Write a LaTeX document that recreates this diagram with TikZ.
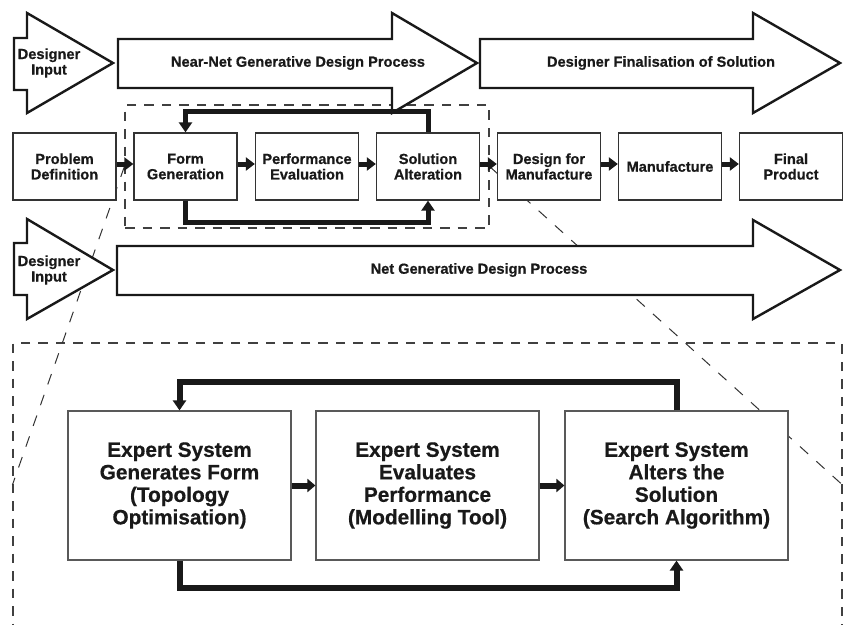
\documentclass[tikz,border=0pt]{standalone}
\usepackage{fontspec}
\setmainfont{Liberation Sans}[BoldFeatures={FakeBold=0.6}]
\usetikzlibrary{arrows.meta}
\begin{document}
\begin{tikzpicture}[x=1pt,y=-1pt,
  font=\bfseries\fontsize{14.6}{15.5}\selectfont,
  flowbox/.style={draw=black!80, line width=1.3pt, fill=white, minimum width=103pt,
    minimum height=67pt, align=center, inner sep=0pt, text=black!90},
  esbox/.style={draw=black!65, line width=1.2pt, fill=white, minimum width=223pt,
    minimum height=149pt, align=center, inner sep=0pt, text=black!90,
    font=\bfseries\fontsize{20.8}{22.5}\selectfont},
  bigarrow/.style={draw=black!90, line width=2.4pt, fill=white, line join=miter},
  flow/.style={draw=black!90, line width=5pt, -{Triangle[width=13pt,length=9pt]}},
  esflow/.style={draw=black!90, line width=6pt, -{Triangle[width=13pt,length=8pt]}},
  loopline/.style={draw=black!90, line width=5pt, line join=miter,
    -{Triangle[width=13pt,length=10pt]}},
  esloop/.style={draw=black!90, line width=6pt, line join=miter,
    -{Triangle[width=13pt,length=10pt]}},
  dashbox/.style={draw=black!75, line width=1.2pt, dash pattern=on 9.5pt off 8pt, inner sep=0pt},
  zoomline/.style={draw=black!80, line width=1pt, dash pattern=on 11pt off 11pt},
  arrowtext/.style={align=center, inner sep=0pt, text=black!90}
]
\clip (0,0) rectangle (843,624);
\useasboundingbox (0,0) rectangle (843,624);

% dashed frames: the iterative loop and its enlarged view
\node[dashbox, minimum width=364pt, minimum height=123pt] (near) at (307,166.5) {};
\node[dashbox, minimum width=829pt, minimum height=284pt] (detail) at (427.5,485) {};

% zoom lines joining the two frames
\draw[zoomline] (near.west) -- (detail.west);
\draw[zoomline] (near.east) -- (detail.east);

% block arrows of the upper route
\draw[bigarrow] (14,38) -- (27,38) -- (27,13) -- (113,63) -- (27,113) -- (27,90) -- (14,90) -- cycle;
\draw[bigarrow] (118,39) -- (392,39) -- (392,13) -- (477,63) -- (392,113) -- (392,88) -- (118,88) -- cycle;
\draw[bigarrow] (480,39) -- (753,39) -- (753,13) -- (840,63) -- (753,113) -- (753,88) -- (480,88) -- cycle;
\node[arrowtext] (in1) at (49,63) {Designer\\Input};
\node[arrowtext] (nearnet) at (298,63) {Near-Net Generative Design Process};
\node[arrowtext] (final) at (661,63) {Designer Finalisation of Solution};

% block arrows of the lower route
\draw[bigarrow] (14,243) -- (27,243) -- (27,219) -- (113,270) -- (27,319) -- (27,295) -- (14,295) -- cycle;
\draw[bigarrow] (117,246) -- (753,246) -- (753,220) -- (840,270) -- (753,319) -- (753,295) -- (117,295) -- cycle;
\node[arrowtext] (in2) at (49,270) {Designer\\Input};
\node[arrowtext] (net) at (479,270) {Net Generative Design Process};

% process steps
\node[flowbox] (pd)  at (64.5,166.5)  {Problem\\Definition};
\node[flowbox] (fg)  at (185.5,166.5) {Form\\Generation};
\node[flowbox] (pe)  at (307,166.5)   {Performance\\Evaluation};
\node[flowbox] (sa)  at (428,166.5)   {Solution\\Alteration};
\node[flowbox] (dfm) at (549,166.5)   {Design for\\Manufacture};
\node[flowbox] (mf)  at (670,166.5)   {Manufacture};
\node[flowbox] (fp)  at (791,166.5)   {Final\\Product};

\foreach \a/\b in {pd/fg, fg/pe, pe/sa, sa/dfm, dfm/mf, mf/fp}
  \draw[flow] ([yshift=2.5pt]\a.east) -- ([yshift=2.5pt]\b.west);

% iteration loop of the process steps
\draw[loopline] (sa.north) -- ++(0,-21) -| (fg.north);
\draw[loopline] (fg.south) -- ++(0,22) -| (sa.south);

% expert system detail
\node[esbox] (es1) at (179.5,485.5) {Expert System\\Generates Form\\(Topology\\Optimisation)};
\node[esbox] (es2) at (427.5,485.5) {Expert System\\Evaluates\\Performance\\(Modelling Tool)};
\node[esbox] (es3) at (676.5,485.5) {Expert System\\Alters the\\Solution\\(Search Algorithm)};

\draw[esflow] (es1) -- (es2);
\draw[esflow] (es2) -- (es3);
\draw[esloop] (es3.north) -- ++(0,-28) -| (es1.north);
\draw[esloop] (es1.south) -- ++(0,27) -| (es3.south);
\end{tikzpicture}
\end{document}
